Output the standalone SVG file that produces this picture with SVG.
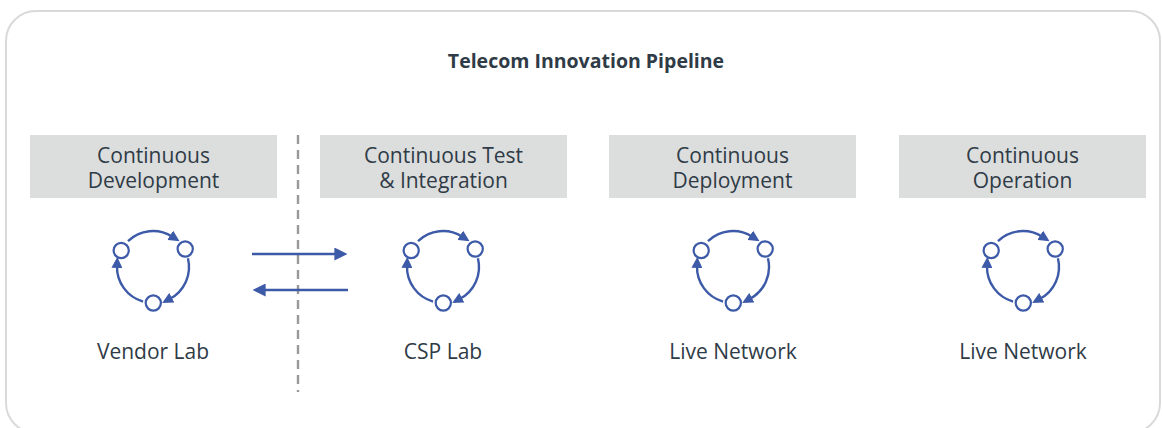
<svg xmlns="http://www.w3.org/2000/svg" xmlns:xlink="http://www.w3.org/1999/xlink" width="1162" height="428" viewBox="0 0 1162 428">
<style>
.frame{fill:#ffffff;stroke:#d9d9d9;stroke-width:2}
.hdr{fill:#dcdddd}
.txt{font-family:"Open Sans","Noto Sans",Lato,sans-serif;fill:#2f3b46;text-anchor:middle}
.h{font-size:21px}
.lbl{font-size:21px}
.title{font-size:19.5px;font-weight:bold}
.ring{fill:none;stroke:#3d5aa8;stroke-width:2.4}
.dot{fill:#ffffff;stroke:#3d5aa8;stroke-width:2.2}
.flow{fill:none;stroke:#3d5aa8;stroke-width:2.6}
.divider{fill:none;stroke:#999999;stroke-width:2.4;stroke-dasharray:9 6}
</style>
<defs>
<marker id="ah" viewBox="0 0 10 10" refX="2" refY="5" markerWidth="11" markerHeight="11" markerUnits="userSpaceOnUse" orient="auto">
<path d="M0,0 L10,5 L0,10 z" fill="#3d5aa8"/>
</marker>
<marker id="ah2" viewBox="0 0 10 10" refX="2" refY="5" markerWidth="13" markerHeight="13" markerUnits="userSpaceOnUse" orient="auto">
<path d="M0,0 L10,5 L0,10 z" fill="#3d5aa8"/>
</marker>
<g id="cycle">
<path class="ring" d="M-25.01,-25.89 A36,36 0 0 1 19.08,-30.53" marker-end="url(#ah)"/>
<path class="ring" d="M34.93,-8.71 A36,36 0 0 1 16.90,31.79" marker-end="url(#ah)"/>
<path class="ring" d="M-9.92,34.61 A36,36 0 0 1 -35.98,-1.26" marker-end="url(#ah)"/>
<circle class="dot" cx="-31.8" cy="-16.5" r="7.6"/>
<circle class="dot" cx="32.2" cy="-18" r="7.6"/>
<circle class="dot" cx="0.3" cy="36" r="7.6"/>
</g>
</defs>
<rect class="frame" x="6" y="11" width="1154" height="422" rx="30" ry="30"/>
<text class="txt title" x="586" y="67.5">Telecom Innovation Pipeline</text>
<g id="node-dev">
<rect class="hdr" x="30" y="135" width="247" height="63"/>
<text class="txt h" x="153.5" y="162.5">Continuous</text>
<text class="txt h" x="153.5" y="188">Development</text>
<use xlink:href="#cycle" x="153" y="267"/>
<text class="txt lbl" x="153" y="359">Vendor Lab</text>
</g>
<g id="node-test">
<rect class="hdr" x="320" y="135" width="247" height="63"/>
<text class="txt h" x="443.5" y="162.5">Continuous Test</text>
<text class="txt h" x="443.5" y="188">&amp; Integration</text>
<use xlink:href="#cycle" x="443" y="267"/>
<text class="txt lbl" x="443" y="359">CSP Lab</text>
</g>
<g id="node-deploy">
<rect class="hdr" x="609" y="135" width="247" height="63"/>
<text class="txt h" x="732.5" y="162.5">Continuous</text>
<text class="txt h" x="732.5" y="188">Deployment</text>
<use xlink:href="#cycle" x="733" y="267"/>
<text class="txt lbl" x="733" y="359">Live Network</text>
</g>
<g id="node-ops">
<rect class="hdr" x="899" y="135" width="247" height="63"/>
<text class="txt h" x="1022.5" y="162.5">Continuous</text>
<text class="txt h" x="1022.5" y="188">Operation</text>
<use xlink:href="#cycle" x="1023" y="267"/>
<text class="txt lbl" x="1023" y="359">Live Network</text>
</g>
<g id="connectors">
<line class="divider" x1="298" y1="135" x2="298" y2="392"/>
<line class="flow" x1="252" y1="254" x2="337" y2="254" marker-end="url(#ah2)"/>
<line class="flow" x1="348" y1="290" x2="263" y2="290" marker-end="url(#ah2)"/>
</g>
</svg>
